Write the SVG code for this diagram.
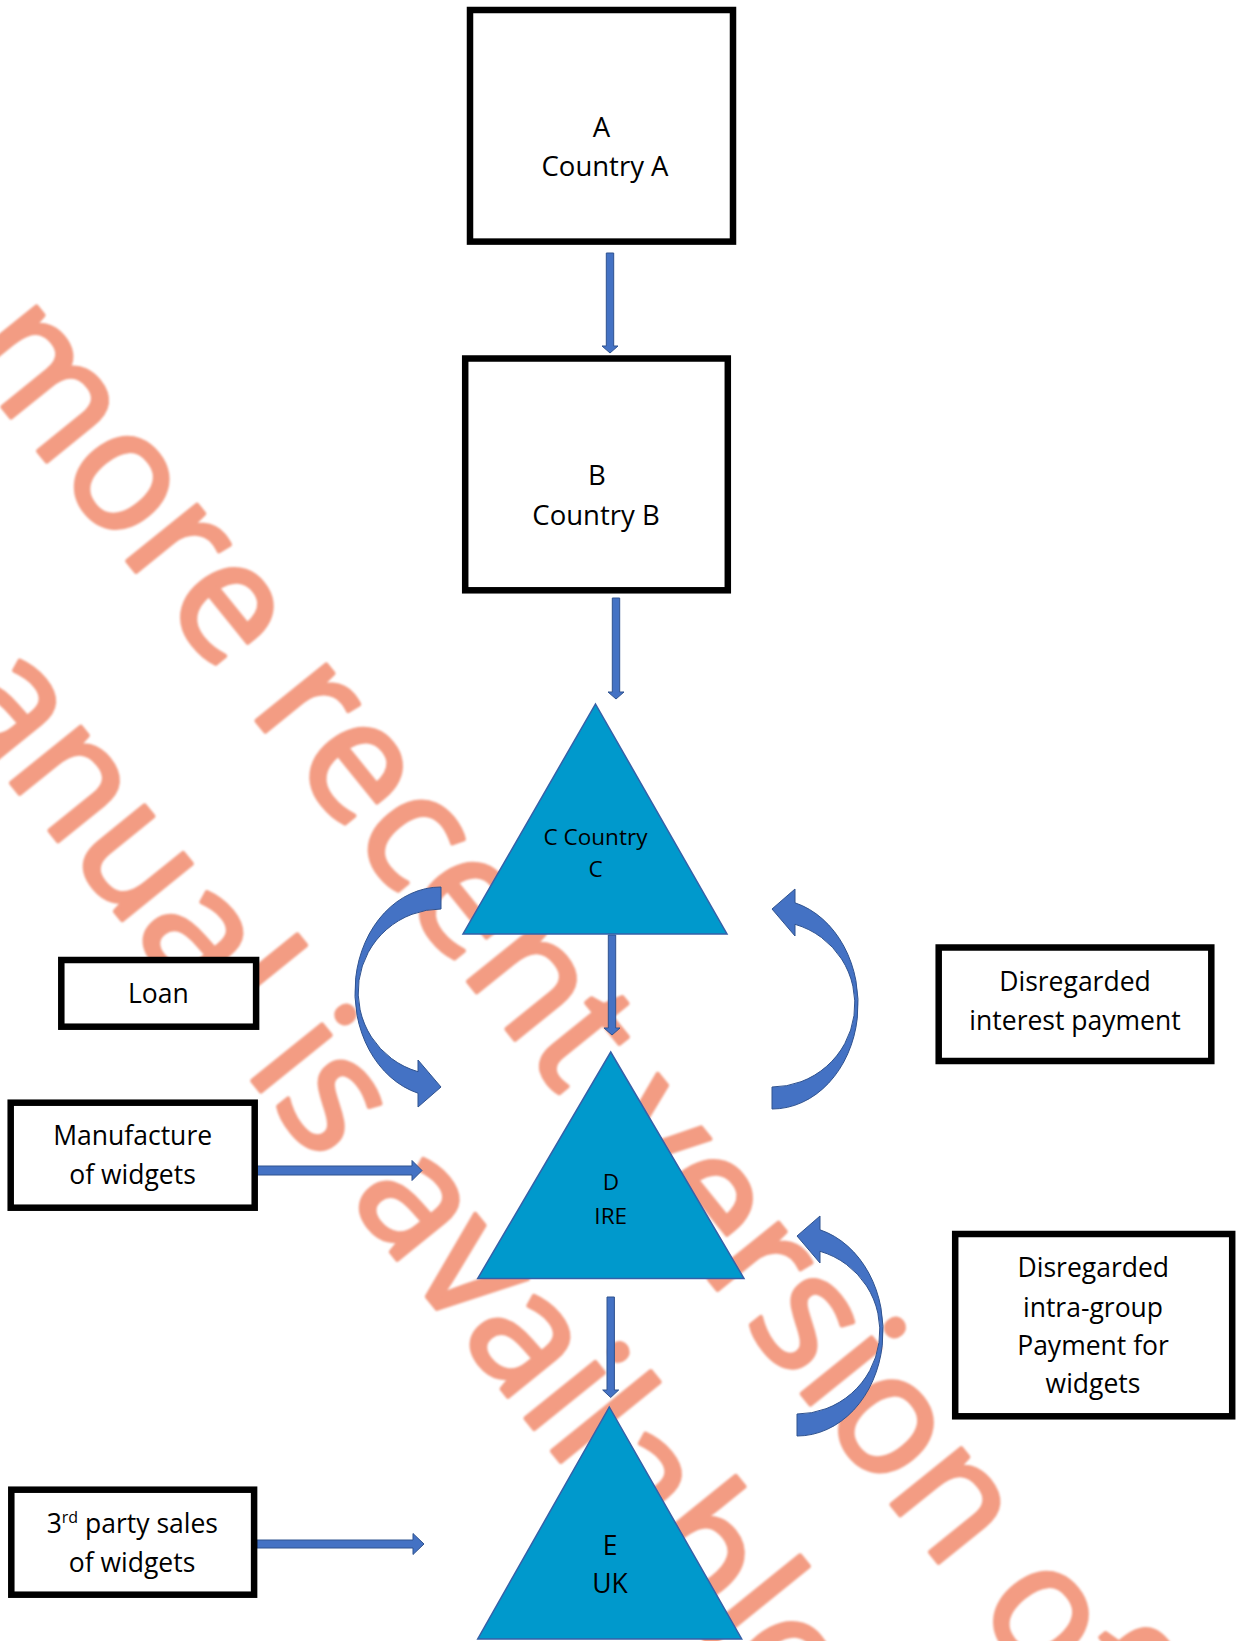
<svg xmlns="http://www.w3.org/2000/svg" width="1240" height="1641" viewBox="0 0 1240 1641">
  <defs>
    <style>
      .box { fill: #ffffff; stroke: #000000; stroke-width: 6.5; }
      .tri { fill: #0099CC; stroke: #3560A8; stroke-width: 1.5; stroke-linejoin: miter; }
      .blk { fill: #4472C4; stroke: #2F528F; stroke-width: 1; }
      .lbl { font-family: "Open Sans", "Noto Sans", sans-serif; fill: #000000; text-anchor: middle; }
      .wm { font-family: "Open Sans", "Noto Sans", sans-serif; font-size: 167px; fill: #F39C83; stroke: #F39C83; stroke-width: 4.5; stroke-linejoin: round; }
    </style>
    <filter id="soft" x="-5%" y="-5%" width="110%" height="110%">
      <feGaussianBlur stdDeviation="1.1"/>
    </filter>
    <!-- curved ribbon arrow: tail at top right, head at bottom pointing right -->
    <path id="curve" class="blk" d="M441,887 A86,105 0 0 0 418,1093.2 L418,1107 L441,1087 L418,1060 L418,1071.7 A83,83 0 0 1 441,909 Z"/>
  </defs>

  <rect width="1240" height="1641" fill="#ffffff"/>

  <!-- diagonal background stamp -->
  <g id="watermark" filter="url(#soft)">
    <g transform="rotate(51)">
      <text class="wm" x="247" y="254">more recent version of</text>
      <text class="wm" x="354" y="484">manual is available</text>
    </g>
  </g>

  <!-- connectors -->
  <g id="connectors">
    <polygon class="blk" points="606.3,253 613.7,253 613.7,346 618,346 610,353 602,346 606.3,346"/>
    <polygon class="blk" points="612.3,598 619.7,598 619.7,692 624,692 616,699 608,692 612.3,692"/>
    <polygon class="blk" points="608.3,935 615.7,935 615.7,1028 620,1028 612,1035 604,1028 608.3,1028"/>
    <polygon class="blk" points="607,1297 614.4,1297 614.4,1390 618.7,1390 610.7,1397.5 602.7,1390 607,1390"/>
    <polygon class="blk" points="254,1166 412,1166 412,1160.5 422,1170.5 412,1180.5 412,1175 254,1175"/>
    <polygon class="blk" points="257,1540 413,1540 413,1533.5 424,1544 413,1554.5 413,1548 257,1548"/>
    <use href="#curve"/>
    <use href="#curve" transform="translate(1213,1996) rotate(180)"/>
    <use href="#curve" transform="translate(1238,2323) rotate(180)"/>
  </g>

  <g id="node-a">
    <rect class="box" x="470" y="10" width="263" height="231.6"/>
    <text class="lbl" font-size="27.5" x="601.5" y="136.7">A</text>
    <text class="lbl" font-size="27.5" x="605" y="175.7">Country A</text>
  </g>

  <g id="node-b">
    <rect class="box" x="465.2" y="358.5" width="262.6" height="231.8"/>
    <text class="lbl" font-size="27.5" x="597" y="485">B</text>
    <text class="lbl" font-size="27.5" x="596" y="525">Country B</text>
  </g>

  <g id="node-c">
    <polygon class="tri" points="595.5,704 727,934 463,934"/>
    <text class="lbl" font-size="22.5" x="595.5" y="845">C Country</text>
    <text class="lbl" font-size="22.5" x="595.7" y="877">C</text>
  </g>

  <g id="node-d">
    <polygon class="tri" points="610.7,1052 744,1278.5 477.7,1278.5"/>
    <text class="lbl" font-size="22.5" x="611" y="1190.4">D</text>
    <text class="lbl" font-size="22.5" x="610.7" y="1223.5">IRE</text>
  </g>

  <g id="node-e">
    <polygon class="tri" points="609.3,1407 741.7,1639 477.7,1639"/>
    <text class="lbl" font-size="26.5" x="610" y="1554.8">E</text>
    <text class="lbl" font-size="26.5" x="610" y="1593.4">UK</text>
  </g>

  <g id="label-loan">
    <rect class="box" x="61.3" y="960" width="194.8" height="66.7"/>
    <text class="lbl" font-size="26.5" x="158.3" y="1003.3">Loan</text>
  </g>

  <g id="label-manufacture">
    <rect class="box" x="10.7" y="1102.7" width="244" height="105"/>
    <text class="lbl" font-size="26.5" x="132.7" y="1145">Manufacture</text>
    <text class="lbl" font-size="26.5" x="132.5" y="1184.3">of widgets</text>
  </g>

  <g id="label-third-party">
    <rect class="box" x="11.3" y="1489.7" width="242.8" height="105"/>
    <text class="lbl" font-size="26.5" x="132.3" y="1532.7">3<tspan font-size="16" dy="-10">rd</tspan><tspan dy="10"> party sales</tspan></text>
    <text class="lbl" font-size="26.5" x="132" y="1571.7">of widgets</text>
  </g>

  <g id="label-interest">
    <rect class="box" x="938.7" y="947.5" width="272.6" height="113.5"/>
    <text class="lbl" font-size="26.5" x="1075" y="991">Disregarded</text>
    <text class="lbl" font-size="26.5" x="1075" y="1030">interest payment</text>
  </g>

  <g id="label-intra-group">
    <rect class="box" x="955.2" y="1234" width="277" height="182.3"/>
    <text class="lbl" font-size="26.5" x="1093.3" y="1277.3">Disregarded</text>
    <text class="lbl" font-size="26.5" x="1093" y="1316.7">intra-group</text>
    <text class="lbl" font-size="26.5" x="1093" y="1355">Payment for</text>
    <text class="lbl" font-size="26.5" x="1093" y="1393.3">widgets</text>
  </g>
</svg>
